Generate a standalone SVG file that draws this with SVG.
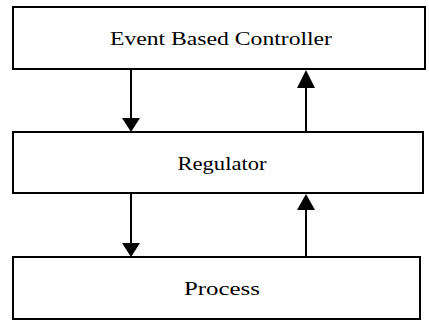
<svg xmlns="http://www.w3.org/2000/svg" width="429" height="321" viewBox="0 0 429 321">
  <style>
    .box { fill: #fff; stroke: #000; stroke-width: 2; }
    .label { font-family: "Liberation Serif", "DejaVu Serif", serif; font-size: 19px; fill: #000; text-anchor: middle; }
    .wire { stroke: #000; stroke-width: 2; fill: none; }
    .head { fill: #000; }
  </style>
  <rect width="429" height="321" fill="#fff"/>
  <g id="connectors">
    <!-- controller to regulator (down) -->
    <line class="wire" x1="131" y1="69" x2="131" y2="120"/>
    <polygon class="head" points="122,118 140,118 131,132"/>
    <!-- regulator to controller (up) -->
    <line class="wire" x1="306" y1="86" x2="306" y2="132"/>
    <polygon class="head" points="297,88 315,88 306,70"/>
    <!-- regulator to process (down) -->
    <line class="wire" x1="131" y1="193" x2="131" y2="245"/>
    <polygon class="head" points="122,243 140,243 131,257"/>
    <!-- process to regulator (up) -->
    <line class="wire" x1="306" y1="208" x2="306" y2="257"/>
    <polygon class="head" points="297,210 315,210 306,194"/>
  </g>
  <g id="controller">
    <rect class="box" x="13" y="7" width="412" height="62"/>
    <text class="label" x="221" y="45" textLength="222" lengthAdjust="spacingAndGlyphs">Event Based Controller</text>
  </g>
  <g id="regulator">
    <rect class="box" x="13" y="132" width="410" height="61"/>
    <text class="label" x="222" y="170" textLength="89" lengthAdjust="spacingAndGlyphs">Regulator</text>
  </g>
  <g id="process">
    <rect class="box" x="13" y="257" width="407" height="62"/>
    <text class="label" x="222" y="295" textLength="76" lengthAdjust="spacingAndGlyphs">Process</text>
  </g>
</svg>
